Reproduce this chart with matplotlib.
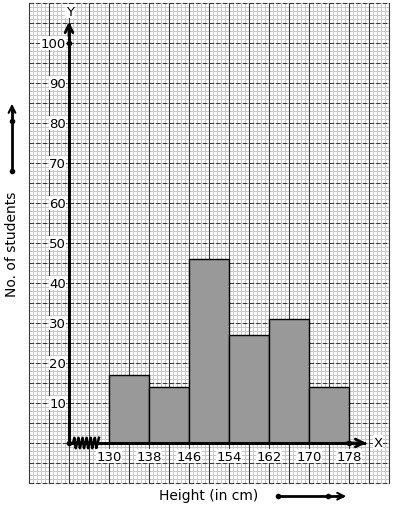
import matplotlib.pyplot as plt
import numpy as np

# class intervals (height in cm) and number of students
edges = [130, 138, 146, 154, 162, 170, 178]
counts = [17, 14, 46, 27, 31, 14]
yticks = [10, 20, 30, 40, 50, 60, 70, 80, 90, 100]

fig = plt.figure(figsize=(3.94, 5.10), dpi=100)
ax = fig.add_axes([0, 0, 1, 1])
ax.set_xlim(108.2, 187)
ax.set_ylim(-16.5, 111)
ax.axis('off')

# graph paper
x0, x1, y0, y1 = 114, 186, -10, 110
for xv in np.arange(x0, x1 + 0.01, 0.8):
    ax.plot([xv, xv], [y0, y1], color='#c8c8c8', lw=0.7, zorder=1)
for yv in np.arange(y0, y1 + 0.01, 1):
    ax.plot([x0, x1], [yv, yv], color='#c8c8c8', lw=0.7, zorder=1)
for xv in np.arange(x0, x1 + 0.01, 4):
    ax.plot([xv, xv], [y0, y1], color='#3a3a3a', lw=0.8, zorder=2)
for yv in np.arange(y0, y1 + 0.01, 5):
    ax.plot([x0, x1], [yv, yv], color='#3a3a3a', lw=0.8, ls=(0, (4, 2)), zorder=2)

# histogram
ax.bar(edges[:-1], counts, width=8, align='edge', color='#999999',
       edgecolor='black', lw=1.0, zorder=3)

# axes
ax.plot([122, 122], [0, 104.5], color='black', lw=2.2, zorder=4)
ax.plot([128, 181], [0, 0], color='black', lw=2.2, zorder=4)
ax.annotate('', xy=(122, 106), xytext=(122, 101),
            arrowprops=dict(arrowstyle='->', lw=2, color='black', mutation_scale=14), zorder=5)
ax.annotate('', xy=(182, 0), xytext=(177, 0),
            arrowprops=dict(arrowstyle='->', lw=2, color='black', mutation_scale=14), zorder=5)
ax.text(122.2, 108, 'Y', ha='center', va='center', fontsize=9.5, zorder=6,
        bbox=dict(facecolor='white', edgecolor='none', pad=0.5))
ax.text(183.8, 0.2, 'X', ha='center', va='center', fontsize=9.5, zorder=6,
        bbox=dict(facecolor='white', edgecolor='none', pad=0.5))

# kink on x axis
zx = np.linspace(122.8, 128, 20)
zy = np.array([0, 1, -1] * 7)[:len(zx)] * 1.3
zy[0] = 0
ax.plot([122, 122.8], [0, 0], color='black', lw=2, zorder=4)
ax.plot(zx, zy, color='black', lw=1.8, zorder=4)
ax.plot([122, 122, 178], [0, 100, 0], 'o', color='black', ms=3, zorder=5)

# tick labels
for v in yticks:
    ax.text(121.4, v, str(v), ha='right', va='center', fontsize=9.5, zorder=6,
            bbox=dict(facecolor='white', edgecolor='none', pad=0.3))
for e in edges:
    ax.text(e, -3.3, str(e), ha='center', va='center', fontsize=9.5, zorder=6,
            bbox=dict(facecolor='white', edgecolor='none', pad=0.3))

# axis titles with arrows
ax.text(110.6, 50, 'No. of students', rotation=90, ha='center', va='center', fontsize=10)
ax.plot([110.6, 110.6], [68, 83.5], color='black', lw=2)
ax.plot([110.6, 110.6], [68, 80.5], 'o', color='black', ms=3)
ax.annotate('', xy=(110.6, 85.5), xytext=(110.6, 82),
            arrowprops=dict(arrowstyle='->', lw=1.5, color='black', mutation_scale=12))

ax.text(150, -13, 'Height (in cm)', ha='center', va='center', fontsize=10)
ax.plot([163.8, 176.5], [-13.3, -13.3], color='black', lw=2)
ax.plot([163.8, 173.8], [-13.3, -13.3], 'o', color='black', ms=3)
ax.annotate('', xy=(178, -13.3), xytext=(175, -13.3),
            arrowprops=dict(arrowstyle='->', lw=1.5, color='black', mutation_scale=12))

fig.savefig('out.png', dpi=100)
